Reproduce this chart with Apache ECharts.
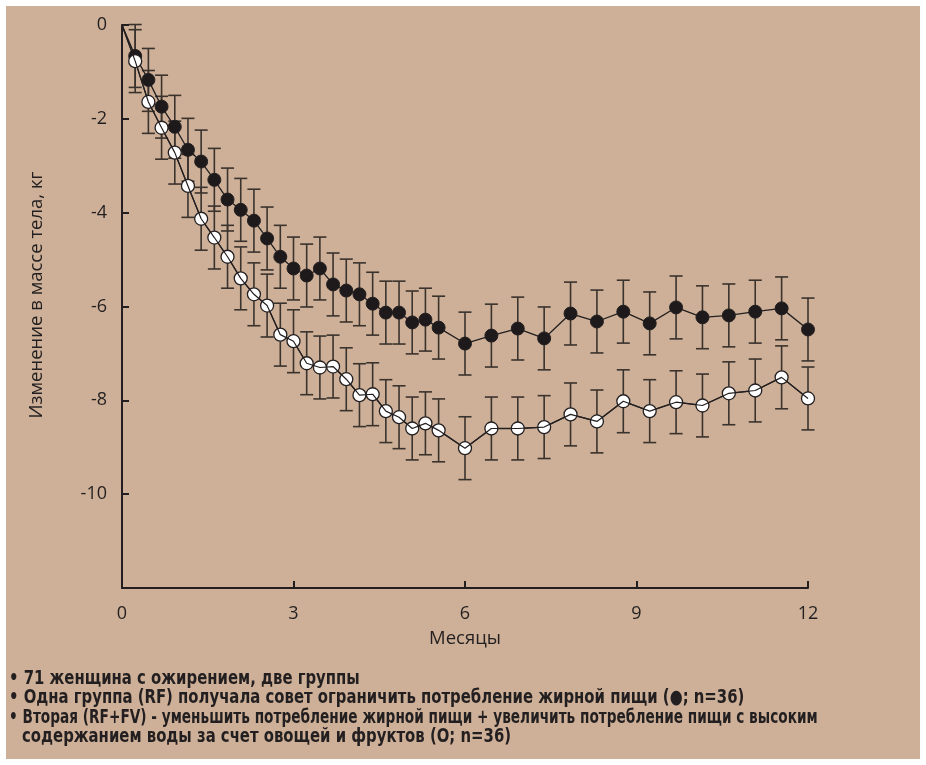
<!DOCTYPE html>
<html>
<head>
<meta charset="utf-8">
<script src="https://cdn.jsdelivr.net/npm/echarts@6/dist/echarts.min.js"></script>
<style>
    html, body { margin: 0; padding: 0; background: #ffffff; }
    #paper { position: absolute; left: 6px; top: 6px; width: 914px; height: 753px; background: #cdb097; }
    #chart { position: absolute; left: 0; top: 0; width: 926px; height: 765px; }
</style>
</head>
<body>
<div id="paper"></div>
<div id="chart"></div>
<script>
// weeks from start (52 weeks = 12 months)
var weeks = [0, 1, 2, 3, 4, 5, 6, 7, 8, 9, 10, 11, 12, 13, 14, 15, 16, 17, 18, 19, 20, 21, 22, 23, 24,
    26, 28, 30, 32, 34, 36, 38, 40, 42, 44, 46, 48, 50, 52];

// RF group (filled circles)
var rfMean = [0, -0.66, -1.17, -1.74, -2.17, -2.66, -2.91, -3.30, -3.72, -3.94, -4.17, -4.55, -4.94, -5.19,
    -5.34, -5.19, -5.53, -5.66, -5.74, -5.94, -6.13, -6.13, -6.34, -6.28, -6.45,
    -6.79, -6.62, -6.47, -6.68, -6.15, -6.32, -6.11, -6.36, -6.02, -6.23, -6.19, -6.11, -6.04, -6.49];
var rfErr = [null, 0.67, 0.67, 0.67, 0.67, 0.67, 0.67, 0.67, 0.67, 0.67, 0.67, 0.67, 0.67, 0.67,
    0.67, 0.67, 0.67, 0.67, 0.67, 0.67, 0.67, 0.67, 0.67, 0.67, 0.67,
    0.67, 0.67, 0.67, 0.67, 0.67, 0.67, 0.67, 0.67, 0.67, 0.67, 0.67, 0.67, 0.67, 0.67];

// RF+FV group (open circles)
var rffvMean = [0, -0.77, -1.64, -2.19, -2.72, -3.43, -4.13, -4.53, -4.94, -5.40, -5.74, -5.98, -6.60, -6.74,
    -7.21, -7.30, -7.28, -7.55, -7.89, -7.87, -8.23, -8.36, -8.60, -8.49, -8.64,
    -9.02, -8.60, -8.60, -8.57, -8.30, -8.45, -8.02, -8.23, -8.04, -8.11, -7.85, -7.79, -7.51, -7.96];
var rffvErr = [null, 0.67, 0.67, 0.67, 0.67, 0.67, 0.67, 0.67, 0.67, 0.67, 0.67, 0.67, 0.67, 0.67,
    0.67, 0.67, 0.67, 0.67, 0.67, 0.67, 0.67, 0.67, 0.67, 0.67, 0.67,
    0.67, 0.67, 0.67, 0.67, 0.67, 0.67, 0.67, 0.67, 0.67, 0.67, 0.67, 0.67, 0.67, 0.67];

var monthTicks = ['0', '3', '6', '9', '12'];
var yTicks = ['0', '-2', '-4', '-6', '-8', '-10', ''];

var yTitle = 'Изменение в массе тела, кг';
var notes = [
    '• 71 женщина с ожирением, две группы',
    '• Одна группа (RF) получала совет ограничить потребление жирной пищи (●; n=36)',
    '• Вторая (RF+FV) - уменьшить потребление жирной пищи + увеличить потребление пищи с высоким',
    'содержанием воды за счет овощей и фруктов (O; n=36)'
];
// horizontal squeeze per note line (imitates the condensed print face)
var noteSqueeze = [0.87, 0.87, 0.80, 0.87];

var ink = '#231f20';
var barColor = '#3a322d';

function lineData(mean) {
    var out = [];
    for (var i = 0; i < weeks.length; i++) {
        if (i === 0) {
            out.push({value: [weeks[i], mean[i]], symbol: 'none'});
        } else {
            out.push([weeks[i], mean[i]]);
        }
    }
    return out;
}

function errData(mean, err) {
    var out = [];
    for (var i = 0; i < weeks.length; i++) {
        if (err[i] === null) continue;
        out.push([weeks[i], mean[i] - err[i], mean[i] + err[i]]);
    }
    return out;
}

function renderErr(params, api) {
    var lo = api.coord([api.value(0), api.value(1)]);
    var hi = api.coord([api.value(0), api.value(2)]);
    var w = 6.5;
    var style = {stroke: barColor, lineWidth: 1.6};
    return {
        type: 'group',
        children: [
            {type: 'line', shape: {x1: lo[0], y1: lo[1], x2: hi[0], y2: hi[1]}, style: style},
            {type: 'line', shape: {x1: lo[0] - w, y1: lo[1], x2: lo[0] + w, y2: lo[1]}, style: style},
            {type: 'line', shape: {x1: hi[0] - w, y1: hi[1], x2: hi[0] + w, y2: hi[1]}, style: style}
        ]
    };
}

var noteFont = 'bold 19px "Liberation Sans Narrow", "DejaVu Sans Condensed", sans-serif';
var graphics = [{
    type: 'text',
    x: 37,
    y: 295,
    rotation: Math.PI / 2,
    style: {
        text: yTitle,
        fill: ink,
        font: '18.5px "Open Sans"',
        align: 'center',
        verticalAlign: 'middle'
    }
}];
for (var n = 0; n < notes.length; n++) {
    graphics.push({
        type: 'text',
        x: n === 3 ? 22 : 9,
        y: 679 + n * 19.5,
        scaleX: noteSqueeze[n],
        style: {
            text: notes[n],
            fill: ink,
            font: noteFont,
            verticalAlign: 'middle'
        }
    });
}

var chart = echarts.init(document.getElementById('chart'));
var option = {
    animation: false,
    grid: {left: 122, right: 118, top: 25, bottom: 177},
    xAxis: {
        type: 'value',
        min: 0,
        max: 52,
        interval: 13,
        name: 'Месяцы',
        nameLocation: 'middle',
        nameGap: 41,
        nameTextStyle: {color: ink, fontSize: 18.5, fontFamily: 'Open Sans'},
        axisLine: {onZero: false, lineStyle: {color: ink, width: 2}},
        axisTick: {inside: true, length: 7, lineStyle: {color: ink, width: 2}},
        axisLabel: {
            color: ink, fontSize: 18, fontFamily: 'Open Sans', margin: 17,
            formatter: function (v) { return monthTicks[v / 13]; }
        },
        splitLine: {show: false}
    },
    yAxis: {
        type: 'value',
        min: -12,
        max: 0,
        interval: 2,
        axisLine: {onZero: false, lineStyle: {color: ink, width: 2}},
        axisTick: {inside: true, length: 7, lineStyle: {color: ink, width: 2}},
        axisLabel: {
            color: ink, fontSize: 18, fontFamily: 'Open Sans', margin: 15,
            formatter: function (v) { return yTicks[-v / 2]; }
        },
        splitLine: {show: false}
    },
    graphic: graphics,
    series: [
        {
            type: 'custom',
            renderItem: renderErr,
            data: errData(rfMean, rfErr),
            z: 1
        },
        {
            type: 'custom',
            renderItem: renderErr,
            data: errData(rffvMean, rffvErr),
            z: 1
        },
        {
            name: 'RF',
            type: 'line',
            data: lineData(rfMean),
            symbol: 'circle',
            symbolSize: 13,
            lineStyle: {color: ink, width: 1.3},
            itemStyle: {color: '#1e1a1b', borderColor: ink, borderWidth: 1},
            z: 3
        },
        {
            name: 'RF+FV',
            type: 'line',
            data: lineData(rffvMean),
            symbol: 'circle',
            symbolSize: 13,
            lineStyle: {color: ink, width: 1.3},
            itemStyle: {color: '#ffffff', borderColor: ink, borderWidth: 1.3},
            z: 3
        },
        {
            // connecting line drawn over the open circles, as in the print
            type: 'line',
            data: lineData(rffvMean),
            symbol: 'none',
            lineStyle: {color: ink, width: 1.2},
            z: 4
        }
    ]
};
chart.setOption(option);
</script>
</body>
</html>
